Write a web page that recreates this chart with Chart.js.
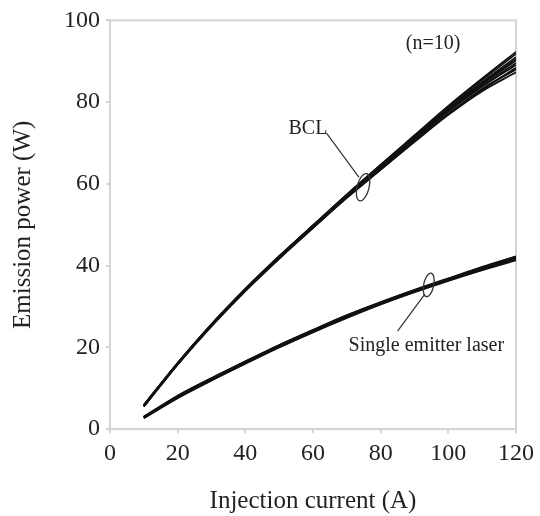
<!DOCTYPE html>
<html>
<head>
<meta charset="utf-8">
<script src="https://cdn.jsdelivr.net/npm/chart.js@4.4.0/dist/chart.umd.min.js"></script>
<style>
    body { margin: 0; background: #fff; }
    #grafico { display: block; }
</style>
</head>
<body>
<canvas id="grafico" width="540" height="516"></canvas>
<script>
// corrente de injecao (A)
const corrente = [10, 20, 30, 40, 50, 60, 70, 80, 90, 100, 110, 120]

// BCL, 10 amostras (W)
const bcl1 = [5.7, 16.0, 25.4, 34.0, 42.0, 49.5, 57.0, 64.0, 71.0, 77.9, 84.0, 89.6]
const bcl2 = [5.5, 15.8, 25.2, 33.8, 41.7, 49.2, 56.6, 63.5, 70.4, 77.1, 83.0, 88.4]
const bcl3 = [5.9, 16.2, 25.7, 34.3, 42.3, 49.9, 57.4, 64.6, 71.7, 78.8, 85.4, 91.8]
const bcl4 = [5.6, 15.9, 25.3, 33.9, 41.9, 49.4, 56.7, 63.5, 70.3, 76.9, 82.7, 87.3]
const bcl5 = [5.8, 16.1, 25.5, 34.1, 42.1, 49.7, 57.2, 64.3, 71.3, 78.3, 84.6, 90.5]
const bcl6 = [5.7, 16.0, 25.5, 34.2, 42.2, 49.8, 57.3, 64.4, 71.5, 78.5, 84.9, 91.0]
const bcl7 = [5.6, 15.9, 25.3, 33.9, 41.8, 49.3, 56.7, 63.6, 70.5, 77.2, 83.3, 88.0]
const bcl8 = [5.8, 16.1, 25.6, 34.2, 42.2, 49.6, 57.1, 64.2, 71.2, 78.1, 84.4, 90.2]
const bcl9 = [5.7, 16.0, 25.4, 34.0, 42.0, 49.5, 56.9, 63.9, 70.9, 77.7, 83.8, 89.1]
const bcl10 = [5.9, 16.2, 25.6, 34.3, 42.3, 49.8, 57.4, 64.7, 71.9, 79.1, 85.8, 92.3]

// single emitter laser, 10 amostras (W)
const sel1 = [2.9, 7.9, 12.2, 16.3, 20.3, 24.0, 27.5, 30.8, 33.8, 36.6, 39.3, 41.8]
const sel2 = [2.7, 7.6, 11.9, 16.0, 20.0, 23.7, 27.2, 30.5, 33.5, 36.3, 38.9, 41.3]
const sel3 = [3.1, 8.2, 12.5, 16.6, 20.6, 24.3, 27.9, 31.1, 34.1, 36.9, 39.7, 42.3]
const sel4 = [2.8, 7.8, 12.1, 16.2, 20.2, 23.9, 27.4, 30.7, 33.7, 36.5, 39.1, 41.6]
const sel5 = [3.0, 8.0, 12.4, 16.4, 20.4, 24.1, 27.7, 30.9, 33.9, 36.7, 39.4, 42.0]
const sel6 = [2.9, 7.9, 12.3, 16.4, 20.3, 24.0, 27.6, 30.8, 33.8, 36.7, 39.3, 41.9]
const sel7 = [2.8, 7.7, 12.0, 16.1, 20.1, 23.8, 27.3, 30.6, 33.6, 36.4, 39.0, 41.5]
const sel8 = [3.0, 8.1, 12.4, 16.5, 20.5, 24.2, 27.8, 31.0, 34.0, 36.8, 39.5, 42.1]
const sel9 = [2.9, 7.9, 12.3, 16.3, 20.4, 24.0, 27.6, 30.8, 33.8, 36.6, 39.2, 41.7]
const sel10 = [3.0, 8.0, 12.4, 16.5, 20.4, 24.1, 27.7, 30.9, 33.9, 36.8, 39.5, 42.2]

const ticksX = [0, 20, 40, 60, 80, 100, 120]
const ticksY = [0, 20, 40, 60, 80, 100]

const fonte = "'Liberation Serif', 'DejaVu Serif', serif"

function montarSerie(valores) {
    return {
        data: corrente.map((x, i) => ({ x: x, y: valores[i] })),
        borderColor: '#111',
        borderWidth: 1.8,
        pointRadius: 0,
        fill: false,
        cubicInterpolationMode: 'monotone'
    }
}

const series = [bcl1, bcl2, bcl3, bcl4, bcl5, bcl6, bcl7, bcl8, bcl9, bcl10,
    sel1, sel2, sel3, sel4, sel5, sel6, sel7, sel8, sel9, sel10].map(montarSerie)

// moldura cinza em volta da area do grafico
const moldura = {
    id: 'moldura',
    beforeDatasetsDraw(chart) {
        const ctx = chart.ctx
        const a = chart.chartArea
        ctx.save()
        ctx.strokeStyle = '#d4d4d4'
        ctx.lineWidth = 2
        ctx.strokeRect(a.left, a.top, a.right - a.left, a.bottom - a.top)
        ctx.restore()
    }
}

// textos e setas (em coordenadas dos dados)
const anotacoes = {
    id: 'anotacoes',
    afterDatasetsDraw(chart) {
        const ctx = chart.ctx
        const sx = chart.scales.x
        const sy = chart.scales.y
        const px = v => sx.getPixelForValue(v)
        const py = v => sy.getPixelForValue(v)
        ctx.save()
        ctx.fillStyle = '#222'
        ctx.textBaseline = 'middle'
        ctx.textAlign = 'center'
        ctx.font = "20px " + fonte
        ctx.fillText('(n=10)', px(95.5), py(94.2))
        ctx.fillText('BCL', px(58.5), py(73.4))
        ctx.fillText('Single emitter laser', px(93.5), py(20.3))

        ctx.strokeStyle = '#333'
        ctx.lineWidth = 1.2
        ctx.beginPath()
        ctx.moveTo(px(64), py(72.4))
        ctx.lineTo(px(73.6), py(61.6))
        ctx.moveTo(px(85), py(24.0))
        ctx.lineTo(px(93.0), py(33.0))
        ctx.stroke()

        ctx.lineWidth = 1.3
        ctx.beginPath()
        ctx.ellipse(px(74.8), py(59.2), 6, 14, 0.25, 0, Math.PI * 2)
        ctx.stroke()
        ctx.beginPath()
        ctx.ellipse(px(94.2), py(35.3), 5, 12, 0.2, 0, Math.PI * 2)
        ctx.stroke()
        ctx.restore()
    }
}

new Chart(document.getElementById('grafico'), {
    type: 'line',
    data: { datasets: series },
    options: {
        responsive: false,
        animation: false,
        layout: { padding: { top: 8, right: 6, left: 8, bottom: 0 } },
        plugins: {
            legend: { display: false },
            tooltip: { enabled: false }
        },
        scales: {
            x: {
                type: 'linear',
                min: 0,
                max: 120,
                afterBuildTicks: (eixo) => { eixo.ticks = ticksX.map(v => ({ value: v })) },
                grid: { display: true, drawOnChartArea: false, tickLength: 4, color: '#d4d4d4', lineWidth: 2 },
                border: { color: '#d4d4d4', width: 2 },
                ticks: { color: '#222', font: { family: fonte, size: 24 }, padding: 6, maxRotation: 0 },
                title: { display: true, text: 'Injection current (A)', color: '#222', font: { family: fonte, size: 25 }, padding: { top: 12, bottom: 0 } }
            },
            y: {
                min: 0,
                max: 100,
                afterBuildTicks: (eixo) => { eixo.ticks = ticksY.map(v => ({ value: v })) },
                grid: { display: true, drawOnChartArea: false, tickLength: 4, color: '#d4d4d4', lineWidth: 2 },
                border: { color: '#d4d4d4', width: 2 },
                ticks: { color: '#222', font: { family: fonte, size: 24 }, padding: 6 },
                title: { display: true, text: 'Emission power (W)', color: '#222', font: { family: fonte, size: 25 }, padding: { top: 0, bottom: 20 } }
            }
        }
    },
    plugins: [moldura, anotacoes]
})
</script>
</body>
</html>
